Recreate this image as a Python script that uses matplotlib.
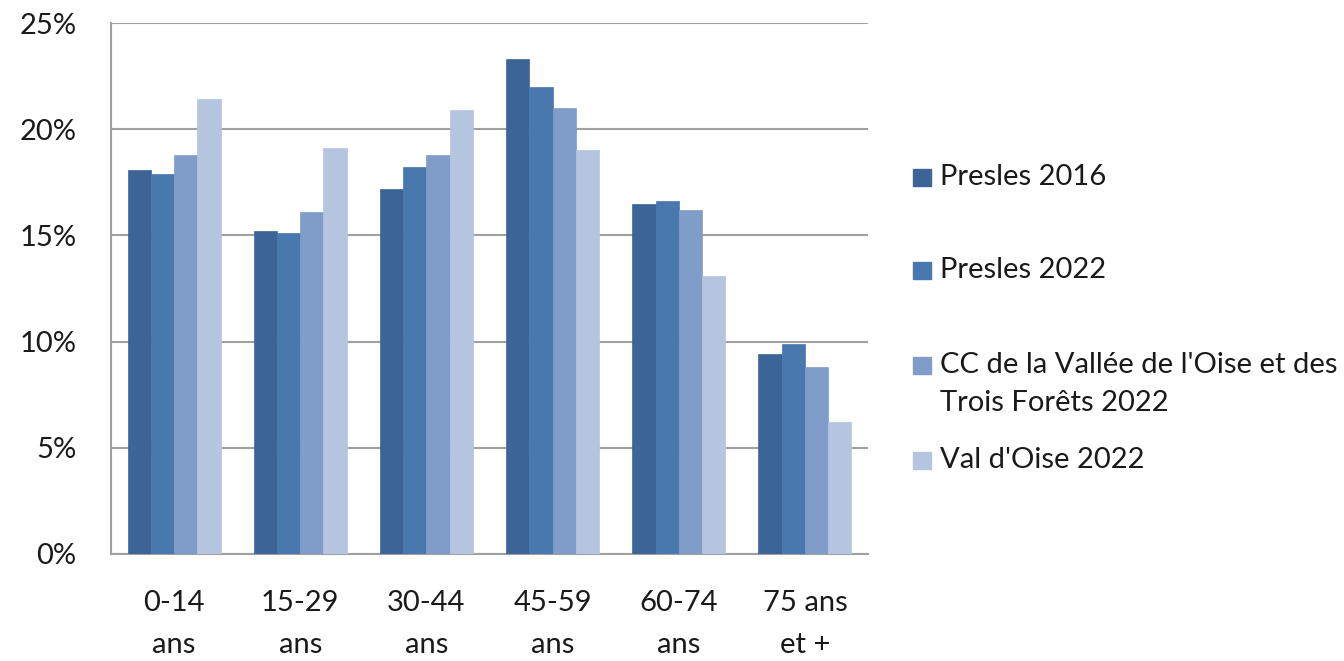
import matplotlib
matplotlib.use("Agg")
import matplotlib.pyplot as plt
from matplotlib.patches import Rectangle
import numpy as np

categories = ["0-14\nans", "15-29\nans", "30-44\nans", "45-59\nans", "60-74\nans", "75 ans\net +"]
series_names = ["Presles 2016", "Presles 2022",
                "CC de la Vallée de l'Oise et des\nTrois Forêts 2022", "Val d'Oise 2022"]
presles_2016 = [18.1, 15.2, 17.2, 23.3, 16.5, 9.4]
presles_2022 = [17.9, 15.1, 18.2, 22.0, 16.6, 9.9]
cc_vallee_2022 = [18.8, 16.1, 18.8, 21.0, 16.2, 8.8]
val_doise_2022 = [21.4, 19.1, 20.9, 19.0, 13.1, 6.2]
yticks = [0, 5, 10, 15, 20, 25]
ytick_labels = ["0%", "5%", "10%", "15%", "20%", "25%"]

colors = ["#3C6496", "#4878AE", "#809CC8", "#B5C4DF"]
FONT = "Lato"
FS = 21
TXT = "#1a1a1a"

fig = plt.figure(figsize=(13.44, 6.61), dpi=100)
ax = fig.add_axes([111/1344, 1-554/661, (868-111)/1344, (554-23)/661])

data = [presles_2016, presles_2022, cc_vallee_2022, val_doise_2022]
x = np.arange(len(categories))
w = 0.184
for i, (vals, c) in enumerate(zip(data, colors)):
    ax.bar(x + (i - 1.5) * w, vals, width=w, color=c, edgecolor=c, linewidth=0.5, zorder=3)

ax.set_xlim(-0.5, len(categories) - 0.5)
ax.set_ylim(0, 25)
ax.set_yticks(yticks)
ax.set_yticklabels(ytick_labels, fontname=FONT, fontsize=FS, color=TXT)
ax.set_xticks(x)
ax.set_xticklabels(categories, fontname=FONT, fontsize=FS, color=TXT, linespacing=1.75)
ax.tick_params(axis="both", length=0)
ax.tick_params(axis="y", pad=25)
ax.tick_params(axis="x", pad=26)
ax.grid(axis="y", color="#A0A0A0", linewidth=1.5, zorder=0)
for s in ["top", "right"]:
    ax.spines[s].set_visible(False)
for s in ["left", "bottom"]:
    ax.spines[s].set_color("#A0A0A0")
    ax.spines[s].set_linewidth(1.5)

# legend drawn manually
ys = [177, 270, 365, 460]
for name, c, yc in zip(series_names, colors, ys):
    fig.patches.append(Rectangle((913/1344, 1-(yc+8.5)/661), 18/1344, 17/661,
                                 transform=fig.transFigure, color=c))
    lines = name.split("\n")
    fig.text(940/1344, 1-yc/661, lines[0], fontname=FONT, fontsize=FS, color=TXT,
             va="center", ha="left")
    if len(lines) > 1:
        fig.text(940/1344, 1-403/661, lines[1], fontname=FONT, fontsize=FS, color=TXT,
                 va="center", ha="left")

fig.savefig("out.png", dpi=100)
